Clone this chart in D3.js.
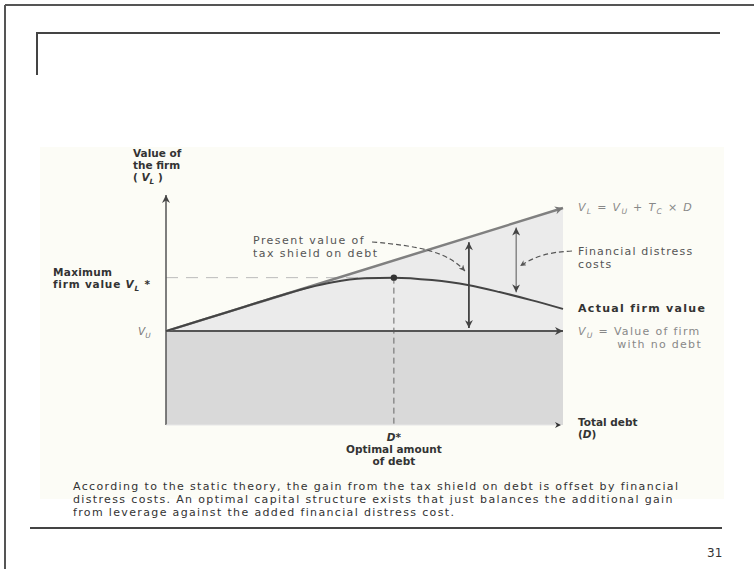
<!DOCTYPE html>
<html><head><meta charset="utf-8">
<script src="https://cdn.jsdelivr.net/npm/d3@7"></script>
<style>
body{margin:0;background:#fff}
svg{display:block}
text{font-family:"DejaVu Sans",sans-serif}
</style>
</head><body><svg id="c" width="754" height="569"></svg>
<script>
// ---- data ----
const debt = [0, 10, 20, 30, 36, 42, 50, 57.4, 67, 76, 84, 92, 100];
const actualValue = [100, 103.5, 107, 110.5, 112.4, 113.9, 115.0, 115.2, 114.5, 113.1, 111.1, 108.8, 106.3];
const unleveredValue = 100;
const taxRate = 0.35;
const optimalDebt = 57.4;
const maxValue = 115.2;
const debtDomain = [0, 100];
const valueDomain = [73.3, 138.7];
const arrowDebt = [76.3, 88.2];
const captionLines = [
  "According to the static theory, the gain from the tax shield on debt is offset by financial",
  "distress costs. An optimal capital structure exists that just balances the additional gain",
  "from leverage against the added financial distress cost."
];
const slideNumber = "31";

// ---- drawing ----
const svg = d3.select("#c");
const x = d3.scaleLinear().domain(debtDomain).range([166, 563]);
const y = d3.scaleLinear().domain(valueDomain).range([425, 195]);
const VL = d => unleveredValue + taxRate * d;

const defs = svg.append("defs");
function marker(id, color, w, h) {
  defs.append("marker").attr("id", id).attr("viewBox", "0 0 10 10")
    .attr("refX", 10).attr("refY", 5).attr("markerUnits", "userSpaceOnUse")
    .attr("markerWidth", w).attr("markerHeight", h).attr("orient", "auto-start-reverse")
    .append("path").attr("d", "M0,0L10,5L0,10L3,5z").attr("fill", color);
}
marker("arDark", "#444", 10, 8);
marker("arGray", "#777", 10, 8);
marker("arSmall", "#555", 7, 6);
marker("arAxis", "#333", 9, 6);

// outer frame
svg.append("line").attr("x1", 5).attr("y1", 5).attr("x2", 754).attr("y2", 5).attr("stroke", "#555").attr("stroke-width", 2);
svg.append("line").attr("x1", 5).attr("y1", 5).attr("x2", 5).attr("y2", 569).attr("stroke", "#555").attr("stroke-width", 2);
// slide decoration
svg.append("path").attr("d", "M37,75V33H720").attr("fill", "none").attr("stroke", "#444").attr("stroke-width", 2);

// panel
svg.append("rect").attr("x", 40).attr("y", 147).attr("width", 684).attr("height", 352).attr("fill", "#fcfcf6");

// fills
svg.append("rect").attr("x", x(0)).attr("y", y(unleveredValue))
  .attr("width", x(100) - x(0)).attr("height", y(valueDomain[0]) - y(unleveredValue)).attr("fill", "#d9d9d9");
svg.append("path").attr("d", `M${x(0)},${y(unleveredValue)}L${x(100)},${y(VL(100))}L${x(100)},${y(unleveredValue)}Z`).attr("fill", "#ebebeb");

// guides
svg.append("line").attr("x1", x(0)).attr("x2", x(optimalDebt)).attr("y1", y(maxValue)).attr("y2", y(maxValue))
  .attr("stroke", "#bbb").attr("stroke-width", 1).attr("stroke-dasharray", "12,8");
svg.append("line").attr("x1", x(optimalDebt)).attr("x2", x(optimalDebt)).attr("y1", y(maxValue)).attr("y2", y(valueDomain[0]))
  .attr("stroke", "#666").attr("stroke-width", 1).attr("stroke-dasharray", "6,4");

// axes
svg.append("line").attr("x1", x(0)).attr("x2", x(0)).attr("y1", y(valueDomain[0])).attr("y2", y(valueDomain[1]))
  .attr("stroke", "#555").attr("stroke-width", 1.5).attr("marker-end", "url(#arDark)");
svg.append("line").attr("x1", x(0)).attr("x2", x(100) - 2).attr("y1", y(valueDomain[0])).attr("y2", y(valueDomain[0]))
  .attr("stroke", "#e6e6e6").attr("stroke-width", 1).attr("marker-end", "url(#arAxis)");

// lines
svg.append("line").attr("x1", x(0)).attr("x2", x(100)).attr("y1", y(unleveredValue)).attr("y2", y(unleveredValue))
  .attr("stroke", "#555").attr("stroke-width", 2).attr("marker-end", "url(#arDark)");
svg.append("line").attr("x1", x(0)).attr("x2", x(100)).attr("y1", y(VL(0))).attr("y2", y(VL(100)))
  .attr("stroke", "#808080").attr("stroke-width", 2.5).attr("marker-end", "url(#arGray)");
const line = d3.line().x((d, i) => x(debt[i])).y(d => y(d)).curve(d3.curveMonotoneX);
svg.append("path").attr("d", line(actualValue)).attr("fill", "none").attr("stroke", "#444").attr("stroke-width", 2);
svg.append("circle").attr("cx", x(optimalDebt)).attr("cy", y(maxValue)).attr("r", 3.2).attr("fill", "#333");

// double arrows
const actualAt = d3.scaleLinear().domain(debt).range(actualValue);
svg.append("line").attr("x1", x(arrowDebt[0])).attr("x2", x(arrowDebt[0]))
  .attr("y1", y(VL(arrowDebt[0])) + 5).attr("y2", y(unleveredValue) - 3)
  .attr("stroke", "#444").attr("stroke-width", 1.8)
  .attr("marker-start", "url(#arDark)").attr("marker-end", "url(#arDark)");
svg.append("line").attr("x1", x(arrowDebt[1])).attr("x2", x(arrowDebt[1]))
  .attr("y1", y(VL(arrowDebt[1])) + 5).attr("y2", y(actualAt(arrowDebt[1])) - 4)
  .attr("stroke", "#555").attr("stroke-width", 1)
  .attr("marker-start", "url(#arDark)").attr("marker-end", "url(#arDark)");

// leaders
const a1 = x(arrowDebt[0]), a2 = x(arrowDebt[1]);
svg.append("path").attr("d", `M372,242C420,246 448,252 ${a1 - 4},271`).attr("fill", "none")
  .attr("stroke", "#555").attr("stroke-width", 1.2).attr("stroke-dasharray", "5,3").attr("marker-end", "url(#arSmall)");
svg.append("path").attr("d", `M572,251C550,252 535,256 ${a2 + 4},266`).attr("fill", "none")
  .attr("stroke", "#555").attr("stroke-width", 1.2).attr("stroke-dasharray", "5,3").attr("marker-end", "url(#arSmall)");

// text helper
function txt(xp, yp, parts, opt = {}) {
  const size = opt.size || 11;
  const t = svg.append("text").attr("x", xp).attr("y", yp)
    .attr("font-size", size).attr("fill", opt.color || "#444")
    .attr("font-weight", opt.bold ? "bold" : "normal")
    .attr("letter-spacing", opt.ls || 0)
    .attr("text-anchor", opt.anchor || "start");
  (Array.isArray(parts) ? parts : [[parts]]).forEach(p => {
    const s = t.append("tspan").text(p[0]);
    if (p[1] === "i") s.attr("font-style", "italic");
    if (p[1] === "sub") s.attr("font-style", "italic").attr("font-size", size * 0.7).attr("dy", 3);
    if (p[2] === "up") s.attr("dy", -3);
  });
  return t;
}
const B = {bold: true, color: "#333", size: 10.5};
const R = {color: "#555", size: 11, ls: 1.45};
const G = {color: "#888", size: 11, ls: 1.3};
// y-axis title
txt(133, 157, "Value of", B);
txt(133, 169, "the firm", B);
txt(133, 181, [["( "], ["V", "i"], ["L", "sub"], [" )", "", "up"]], B);
txt(53, 276, "Maximum", Object.assign({}, B, {ls: 0.3}));
txt(53, 288, [["firm value "], ["V", "i"], ["L", "sub"], [" *", "", "up"]], Object.assign({}, B, {ls: 0.8}));
txt(138, 335, [["V", "i"], ["U", "sub"]], {color: "#777", size: 10.5});

txt(253, 244, "Present value of", R);
txt(253, 257, "tax shield on debt", R);

txt(578, 211, [["V", "i"], ["L", "sub"], [" = ", "", "up"], ["V", "i"], ["U", "sub"], [" + ", "", "up"], ["T", "i"], ["C", "sub"], [" × ", "", "up"], ["D", "i"]], G);
txt(578, 255, "Financial distress", Object.assign({}, R, {ls: 1.17}));
txt(578, 268, "costs", Object.assign({}, R, {ls: 1.17}));
txt(578, 312, "Actual firm value", {bold: true, color: "#333", size: 11, ls: 1.3});
txt(578, 335, [["V", "i"], ["U", "sub"], [" = Value of firm", "", "up"]], G);
txt(702, 348, "with no debt", Object.assign({}, G, {anchor: "end"}));
txt(578, 426, "Total debt", B);
txt(578, 438, [["("], ["D", "i"], [")"]], B);

const xd = x(optimalDebt);
txt(xd, 441, [["D", "i"], ["*"]], Object.assign({}, B, {anchor: "middle"}));
txt(xd, 453, "Optimal amount", Object.assign({}, B, {anchor: "middle"}));
txt(xd, 465, "of debt", Object.assign({}, B, {anchor: "middle"}));

captionLines.forEach((l, i) => txt(73, 490 + i * 13, l, {color: "#333", size: 11, ls: 1.35}));
svg.append("line").attr("x1", 30).attr("x2", 722).attr("y1", 528).attr("y2", 528).attr("stroke", "#444").attr("stroke-width", 2);
svg.append("text").attr("x", 707).attr("y", 557).attr("font-family", "Liberation Serif").attr("font-size", 12).attr("fill", "#333").text(slideNumber);
</script>
</body></html>
